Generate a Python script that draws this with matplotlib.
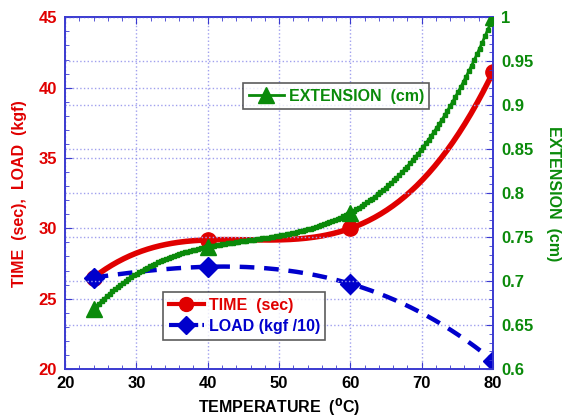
import numpy as np
import matplotlib
matplotlib.use("Agg")
import matplotlib.pyplot as plt
from matplotlib.lines import Line2D
from matplotlib.ticker import MultipleLocator, FuncFormatter

plt.rcParams['font.family'] = ['Liberation Sans', 'DejaVu Sans']
plt.rcParams['font.weight'] = 'bold'

temperature = [24, 40, 60, 80]
time_sec = [26.5, 29.18, 30.0, 41.1]
load_kgf10 = [26.5, 27.27, 26.06, 20.6]
extension_cm = [0.668, 0.739, 0.778, 1.0]

RED = '#e00000'
BLUE = '#0000cc'
GREEN = '#0a8a0a'
SPINE = '#3a3ad0'
GRID = '#a0a0ee'

fig = plt.figure(figsize=(5.66, 4.17), dpi=100)
ax1 = fig.add_axes([0.115, 0.115, 0.756, 0.8435])
ax2 = ax1.twinx()

xs = np.linspace(24, 80, 200)
def cubic(y):
    c = np.polyfit(temperature, y, 3)
    return np.polyval(c, xs)

ax1.plot(xs, cubic(time_sec), color=RED, lw=4, solid_capstyle='round', zorder=3)
ax1.plot(temperature, time_sec, 'o', color=RED, ms=11, zorder=4)
ax1.plot(xs, cubic(load_kgf10), color=BLUE, lw=3.2, ls=(0, (3.3, 2.2)), zorder=3)
ax1.plot(temperature, load_kgf10, 'D', color=BLUE, ms=10, zorder=5)

xg = np.linspace(24, 80, 150)
cg = np.polyfit(temperature, extension_cm, 3)
ax2.plot(xg, np.polyval(cg, xg), color=GREEN, lw=2, marker='s', ms=3, zorder=3)
ax2.plot(temperature, extension_cm, '^', color=GREEN, ms=12, zorder=4)

ax1.set_xlim(20, 80)
ax1.set_ylim(20, 45)
ax2.set_ylim(0.6, 1.0)

ax1.xaxis.set_major_locator(MultipleLocator(10))
ax1.xaxis.set_minor_locator(MultipleLocator(2))
ax1.yaxis.set_major_locator(MultipleLocator(5))
ax1.yaxis.set_minor_locator(MultipleLocator(1))
ax2.yaxis.set_major_locator(MultipleLocator(0.05))
ax2.yaxis.set_minor_locator(MultipleLocator(0.01))
ax2.yaxis.set_major_formatter(FuncFormatter(lambda v, p: '%g' % round(v, 2)))

ax1.grid(True, which='major', color=GRID, ls=':', lw=1)
ax2.grid(True, which='major', axis='y', color=GRID, ls=':', lw=1)
ax1.set_axisbelow(True)

LS = 12
ax1.tick_params(axis='x', which='both', direction='in', top=True, colors=SPINE, labelcolor='black', labelsize=LS, pad=5)
ax1.tick_params(axis='x', which='major', length=5)
ax1.tick_params(axis='x', which='minor', length=3)
ax1.tick_params(axis='y', which='both', direction='in', colors=SPINE, labelcolor=RED, labelsize=LS, pad=6)
ax1.tick_params(axis='y', which='major', length=5)
ax1.tick_params(axis='y', which='minor', length=3)
ax2.tick_params(axis='y', which='both', direction='in', colors=SPINE, labelcolor=GREEN, labelsize=LS, pad=6)
ax2.tick_params(axis='y', which='major', length=5)
ax2.tick_params(axis='y', which='minor', length=3)

for ax in (ax1, ax2):
    for s in ax.spines.values():
        s.set_color(SPINE)
        s.set_linewidth(1.2)

ax1.set_xlabel('TEMPERATURE  ($\\mathbf{^{0}}$C)', fontsize=11.5, fontweight='bold', color='black', labelpad=4)
ax1.set_ylabel('TIME  (sec),  LOAD  (kgf)', fontsize=11.5, fontweight='bold', color=RED, labelpad=8)
ax2.set_ylabel('EXTENSION  (cm)', fontsize=11.5, fontweight='bold', color=GREEN, rotation=270, labelpad=20)

h_ext = Line2D([], [], color=GREEN, lw=2, marker='^', ms=11)
leg1 = ax2.legend([h_ext], ['EXTENSION  (cm)'], loc='upper left', bbox_to_anchor=(0.416, 0.8125),
                  frameon=True, fancybox=False, fontsize=11.5, handlelength=2.2, borderpad=0.35,
                  handletextpad=0.3, borderaxespad=0)
leg1.get_frame().set_edgecolor('#333333')
leg1.get_frame().set_linewidth(1.2)
leg1.get_texts()[0].set_color(GREEN)
ax2.add_artist(leg1)

h_time = Line2D([], [], color=RED, lw=3, marker='o', ms=10)
h_load = Line2D([], [], color=BLUE, lw=3, ls=(0, (3, 1)), marker='D', ms=9)
leg2 = ax2.legend([h_time, h_load], ['TIME  (sec)', 'LOAD (kgf /10)'], loc='upper left',
                  bbox_to_anchor=(0.229, 0.219), frameon=True, fancybox=False, fontsize=11.5,
                  handlelength=2.2, borderpad=0.35, handletextpad=0.3, labelspacing=0.4, borderaxespad=0)
leg2.get_frame().set_edgecolor('#333333')
leg2.get_frame().set_linewidth(1.2)
leg2.get_texts()[0].set_color(RED)
leg2.get_texts()[1].set_color(BLUE)

fig.savefig('out.png', dpi=100)
